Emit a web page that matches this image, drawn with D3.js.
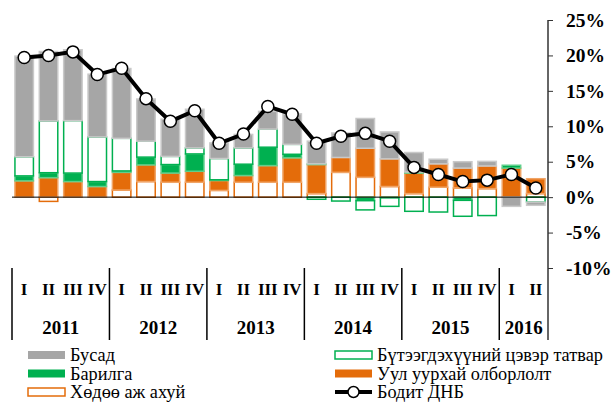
<!DOCTYPE html>
<html>
<head>
<meta charset="utf-8">
<script src="https://cdn.jsdelivr.net/npm/d3@7"></script>
<style>
  body { margin: 0; background: #fff; }
  svg text { font-family: "Liberation Serif", "Times New Roman", serif; }
</style>
</head>
<body>
<svg id="chart" width="614" height="403"></svg>
<script>
// quarters 2011 I .. 2016 II
var quarters = ["I","II","III","IV","I","II","III","IV","I","II","III","IV","I","II","III","IV","I","II","III","IV","I","II"];
var years = ["2011","2012","2013","2014","2015","2016"];
var yearQuarters = [4, 4, 4, 4, 4, 2];

// contributions, percentage points
var agri   = [0, -0.6, 0, 0, 1.0, 2.2, 2.1, 2.1, 0.95, 2.1, 2.1, 2.1, 0.5, 3.5, 2.8, 1.5, 0.5, 1.4, 1.3, 1.2, 0, 0.5];
var mining = [2.3, 2.75, 2.2, 1.5, 2.5, 2.35, 1.3, 1.55, 1.4, 0.95, 2.35, 3.45, 4.1, 2.1, 4.1, 3.9, 2.9, 3.3, 2.8, 3.2, 4.1, 2.1];
var constr = [0.7, 0.7, 1.2, 0.7, 0.2, 1.1, 1.2, 2.45, 0.1, 1.6, 2.6, 0.5, 0.1, 0, -0.5, -0.1, 0.15, 0, -0.45, 0, 0.4, 0];
var taxes  = [2.7, 7.3, 7.4, 6.3, 4.6, 2.25, 1.15, 0.85, 3.0, 2.3, 2.55, 1.4, -0.3, -0.55, -1.3, -1.2, -2.0, -2.1, -2.25, -2.6, 0, -0.7];
var other  = [14.2, 9.8, 10.0, 8.85, 9.85, 5.95, 5.25, 5.45, 2.2, 1.9, 2.5, 4.3, 3.2, 3.45, 4.2, 3.8, 2.75, 0.65, 0.9, 0.65, -1.3, -0.45];
var gdp    = [19.7, 20.0, 20.5, 17.3, 18.2, 13.9, 10.7, 12.2, 7.6, 8.9, 12.8, 11.7, 7.6, 8.6, 9.0, 7.9, 4.2, 3.2, 2.2, 2.4, 3.2, 1.3];

var yTicks = [-10, -5, 0, 5, 10, 15, 20, 25];

var series = [
  {key: "agri",   name: "Хөдөө аж ахуй", values: agri,   fill: "#fff",    stroke: "#e46c0a"},
  {key: "mining", name: "Уул уурхай олборлолт", values: mining, fill: "#e46c0a", stroke: "#f0a466"},
  {key: "constr", name: "Барилга", values: constr, fill: "#00b050", stroke: "#5fcf8c"},
  {key: "taxes",  name: "Бүтээгдэхүүний цэвэр татвар", values: taxes, fill: "#fff", stroke: "#00b050"},
  {key: "other",  name: "Бусад", values: other, fill: "#a6a6a6", stroke: "#c9c9c9"}
];

var rows = quarters.map(function(q, i) {
  var r = {i: i};
  series.forEach(function(s) { r[s.key] = s.values[i]; });
  return r;
});

var svg = d3.select("#chart");

var x = d3.scaleBand()
  .domain(d3.range(quarters.length))
  .range([12, 548])
  .paddingInner(0.18)
  .paddingOuter(0.09);

var y = d3.scaleLinear().domain([-10, 25]).range([268, 20]);

var stack = d3.stack()
  .keys(series.map(function(s) { return s.key; }))
  .offset(d3.stackOffsetDiverging);
var stacked = stack(rows);

var g = svg.append("g");
stacked.forEach(function(layer, k) {
  var s = series[k];
  g.selectAll(".b" + k)
    .data(layer.filter(function(d) { return d[1] - d[0] != 0; }))
    .enter().append("rect")
    .attr("x", function(d) { return x(d.data.i) + 0.75; })
    .attr("width", x.bandwidth() - 1.5)
    .attr("y", function(d) { return y(Math.max(d[0], d[1])); })
    .attr("height", function(d) { return Math.abs(y(d[0]) - y(d[1])); })
    .attr("fill", s.fill)
    .attr("stroke", s.stroke)
    .attr("stroke-width", 1.5);
});

// zero line
svg.append("line")
  .attr("x1", 12).attr("x2", 548)
  .attr("y1", y(0)).attr("y2", y(0))
  .attr("stroke", "#000").attr("stroke-width", 1);

// GDP line
var cx = function(i) { return x(i) + x.bandwidth() / 2; };
svg.append("path")
  .datum(gdp)
  .attr("fill", "none")
  .attr("stroke", "#000")
  .attr("stroke-width", 4)
  .attr("d", d3.line().x(function(d, i) { return cx(i); }).y(function(d) { return y(d); }));

svg.selectAll(".dot")
  .data(gdp)
  .enter().append("circle")
  .attr("cx", function(d, i) { return cx(i); })
  .attr("cy", function(d) { return y(d); })
  .attr("r", 6)
  .attr("fill", "#fff")
  .attr("stroke", "#000")
  .attr("stroke-width", 1.5);

// right axis
var axis = svg.append("g")
  .attr("transform", "translate(548,0)")
  .call(d3.axisRight(y).tickValues(yTicks).tickSize(5).tickPadding(13)
    .tickFormat(function(d) { return d + "%"; }));
axis.select(".domain").remove();
axis.selectAll("line").attr("stroke", "#333");
axis.selectAll("text")
  .attr("font-size", 19.5)
  .attr("font-weight", "bold")
  .attr("fill", "#000")
  .attr("font-family", "Liberation Serif, serif");
svg.append("line")
  .attr("x1", 548).attr("x2", 548)
  .attr("y1", y(25)).attr("y2", 340)
  .attr("stroke", "#333").attr("stroke-width", 1.5);

// category labels
svg.selectAll(".q")
  .data(quarters)
  .enter().append("text")
  .attr("x", function(d, i) { return cx(i); })
  .attr("y", 295)
  .attr("text-anchor", "middle")
  .attr("font-size", 17)
  .attr("font-weight", "bold")
  .text(function(d) { return d; });

var step = x.step();
var start = 0;
years.forEach(function(yr, j) {
  var x0 = 12 + start * step;
  var x1 = 12 + (start + yearQuarters[j]) * step;
  svg.append("line")
    .attr("x1", x0).attr("x2", x0)
    .attr("y1", 268).attr("y2", 340)
    .attr("stroke", "#000").attr("stroke-width", 1.5);
  svg.append("text")
    .attr("x", (x0 + x1) / 2)
    .attr("y", 334)
    .attr("text-anchor", "middle")
    .attr("font-size", 19)
    .attr("font-weight", "bold")
    .text(yr);
  start += yearQuarters[j];
});

// legend
var legendItems = [
  {s: series[4], col: 0, row: 0},
  {s: series[2], col: 0, row: 1},
  {s: series[0], col: 0, row: 2},
  {s: series[3], col: 1, row: 0},
  {s: series[1], col: 1, row: 1},
  {s: null, name: "Бодит ДНБ", col: 1, row: 2}
];
var colX = [28, 335];
legendItems.forEach(function(it) {
  var lx = colX[it.col];
  var ly = 355 + it.row * 18.5;
  var lg = svg.append("g");
  if (it.s) {
    var filled = it.s.fill != "#fff";
    lg.append("rect")
      .attr("x", lx).attr("y", ly - 4)
      .attr("width", 37).attr("height", 8)
      .attr("fill", it.s.fill)
      .attr("stroke", filled ? "none" : it.s.stroke)
      .attr("stroke-width", 1.5);
  } else {
    lg.append("line")
      .attr("x1", lx).attr("x2", lx + 37)
      .attr("y1", ly).attr("y2", ly)
      .attr("stroke", "#000").attr("stroke-width", 4);
    lg.append("circle")
      .attr("cx", lx + 18.5).attr("cy", ly).attr("r", 5.5)
      .attr("fill", "#fff").attr("stroke", "#000").attr("stroke-width", 1.5);
  }
  lg.append("text")
    .attr("x", lx + 42).attr("y", ly + 6)
    .attr("font-size", 18.3)
    .text(it.s ? it.s.name : it.name);
});
</script>
</body>
</html>
